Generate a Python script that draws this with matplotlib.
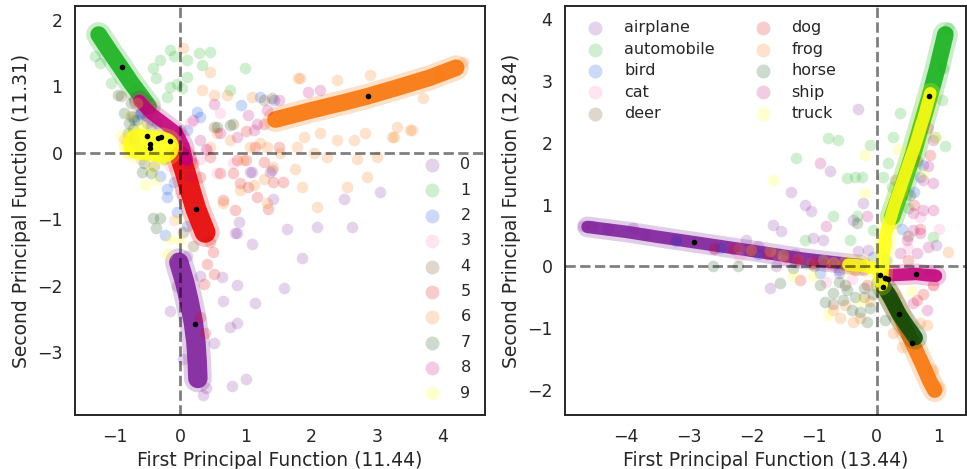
import numpy as np
import matplotlib
matplotlib.use('Agg')
import matplotlib.pyplot as plt

# Class names for the two data sets
digit_labels = [str(i) for i in range(10)]
cifar_labels = ['airplane', 'automobile', 'bird', 'cat', 'deer',
                'dog', 'frog', 'horse', 'ship', 'truck']

# xkcd colours, one per class
palette = ['#7e1e9c', '#15b01a', '#0343df', '#ff81c0', '#653700',
           '#e50000', '#f97306', '#054907', '#c20078', '#ffff14']

# ---- MNIST-like panel: dense ridge of each class (centre line) ----
left_core_x = [
    [-0.02, 0.07, 0.14, 0.20, 0.24, 0.26, 0.27],
    [-1.24, -1.10, -0.90, -0.75, -0.60, -0.48],
    [], [], [],
    [0.00, 0.08, 0.15, 0.24, 0.32, 0.38],
    [1.45, 2.00, 2.50, 2.85, 3.30, 3.80, 4.20],
    [],
    [-0.62, -0.45, -0.25, -0.05, 0.05, 0.10],
    [-0.64, -0.45, -0.25],
]
left_core_y = [
    [-1.65, -1.95, -2.25, -2.55, -2.85, -3.15, -3.40],
    [1.78, 1.57, 1.28, 1.06, 0.86, 0.70],
    [], [], [],
    [-0.05, -0.30, -0.55, -0.85, -1.05, -1.20],
    [0.50, 0.64, 0.76, 0.85, 0.98, 1.13, 1.28],
    [],
    [0.78, 0.60, 0.45, 0.30, 0.10, -0.10],
    [0.13, 0.11, 0.08],
]

# ---- MNIST-like panel: scattered points away from the ridges ----
left_pts_x = [
    [3.04, 2.49, 2.61, 2.08, 1.63, 1.85, 1.58, 1.14, 1.01, 0.79, 0.86, 0.76, 0.66,
     0.86, 0.63, 1.09, 0.86, 0.89, 1.42, 1.37, 1.09, -0.15, 0.51, 1.07, 1.40, 0.84,
     0.40, 0.35, -0.05, 0.10, 0.30, 0.05],
    [-1.22, -0.41, -0.30, -0.15, -0.10, 0.10, 0.28, 0.46, 0.33, -0.36, -0.20, -0.05,
     0.10, 0.03, 0.99, 0.76, -0.15, -1.30, -1.05, -0.70],
    [-0.60, -0.50, -0.45, -0.70, -0.35, -0.20, -0.30, -0.20, -0.20, -0.23, -0.10, 0.10,
     0.25, 0.30, 0.93, 1.22, 1.43, -0.61, -0.71, -0.05, 0.10],
    [-0.85, -0.81, -0.60, 0.41, 0.81, 0.56, -0.10, 0.00, -0.15, 0.30, 0.15, -0.40, 0.60],
    [-0.90, -0.75, -0.50, 1.40, 0.51, 0.81, -0.40, -0.25, 1.27, 0.20, 0.05],
    [0.86, 1.01, 1.27, 1.42, 1.57, 0.91, 0.81, 1.04, 1.17, 0.84, 0.66, 1.34, 0.61, 0.30,
     0.46, 0.20, 1.14, 1.50, 1.01, 1.27, 0.41, 0.51, 0.36, 0.38, 0.30, 0.45, 0.50],
    [0.05, 0.46, 0.33, 0.51, 0.71, 1.09, 1.83, 2.38, 2.89, 3.30, 3.50, 3.22, 2.82, 2.64,
     2.38, 2.13, 1.88, 1.78, 1.52, 1.32, 1.22, 1.07, 0.76, 0.56, 2.03, 2.23, 2.69, 2.84,
     2.54, 2.08, 1.85, 1.75, 1.27, 1.12, 0.91, 0.66, 1.32, 1.42, 0.96, 0.46, 3.53, 3.70,
     2.99, 1.80, 3.25, 4.30, 3.95],
    [-0.85, -0.78, -0.72, -0.80, -0.65, -0.70, -0.60, -0.75, -0.94, -0.55, -0.58, -0.41,
     -0.36, -0.30, 0.76, 0.56, -0.45],
    [0.51, 1.04, 1.17, 1.32, 1.50, 1.95, 2.13, 0.30, 0.20, 0.86, 0.61, 0.00, 1.12, 0.40,
     -0.70, 0.15],
    [-0.53, -0.20, 0.00, -0.36, -0.45, -0.75, -0.65, -0.30, -0.05, -0.15, -0.85, -0.80,
     -0.60, -0.90],
]
left_pts_y = [
    [-0.59, -0.69, -1.12, -1.12, -1.15, -1.59, -2.03, -2.26, -3.41, -3.51, -2.56, -2.62,
     -2.24, -1.99, -1.87, -1.37, -1.21, -1.04, -0.69, -0.29, -0.29, -2.39, -2.87, -0.29,
     -0.26, -1.21, -3.55, -3.65, -2.0, -1.55, -1.85, -3.1],
    [1.35, 1.27, 1.40, 1.55, 1.45, 1.40, 1.50, 1.52, 1.32, 1.12, 0.84, 1.04, 1.14, 0.97,
     1.27, 0.94, 0.99, 1.45, 1.05, 0.95],
    [0.60, 0.55, 0.40, 0.50, 0.45, 0.30, -0.35, -0.55, -0.66, -1.24, -0.44, 0.34, 0.62,
     0.54, 0.72, 0.84, 0.80, 0.59, 0.54, -0.90, -1.10],
    [0.20, 0.19, -0.10, 0.04, -0.16, -0.31, -1.01, -0.60, -0.20, -0.10, 0.45, 0.70, 0.60],
    [0.85, 0.55, 0.45, 0.82, 0.39, 0.44, -0.20, -0.10, 0.80, -1.40, -1.20],
    [-0.11, -0.11, -0.14, -0.44, -0.44, -0.46, -0.31, -0.51, -0.66, -0.86, -0.71, -0.84,
     -0.31, -0.36, -0.06, -0.16, 0.09, 0.09, 0.32, 0.44, -1.67, -1.82, -1.97, -2.72,
     -2.47, -1.35, -1.50],
    [1.57, 1.22, 0.94, 0.87, 0.87, 0.84, 1.12, 1.09, 1.17, 0.39, 0.34, 0.24, 0.29, 0.19,
     0.19, 0.29, 0.24, 0.09, -0.01, 0.09, 0.14, 0.09, 0.19, 0.29, -0.01, -0.06, -0.09,
     -0.36, -0.51, -0.81, -0.51, -0.24, -0.39, -0.49, -0.56, -0.76, -0.76, -0.21, -0.11,
     0.09, 0.34, 0.82, -0.06, 1.12, 0.24, 1.36, 1.15],
    [0.60, 0.45, 0.35, 0.30, 0.50, 0.20, 0.05, 0.75, 0.87, -0.15, -0.29, -0.99, -1.14,
     -0.99, 0.42, 0.39, -0.30],
    [0.74, 0.57, 0.44, 0.64, 0.79, 0.92, 0.94, 0.19, 0.49, 0.24, 0.29, 0.29, 0.34, 0.05,
     0.15, -0.35],
    [-0.49, -1.52, -1.32, -0.41, -0.25, 0.55, 0.75, -0.10, -1.00, -1.30, 0.10, 0.00,
     0.40, 0.25],
]

left_cen_x = [0.23, -0.88, -0.34, -0.46, -0.46, 0.24, 2.86, -0.51, -0.15, -0.29]
left_cen_y = [-2.58, 1.29, 0.22, 0.07, 0.13, -0.85, 0.85, 0.25, 0.17, 0.23]

# ---- CIFAR-like panel: dense ridges ----
right_core_x = [
    [-4.62, -4.00, -3.50, -2.90, -2.30, -1.70, -1.20, -0.70, -0.25],
    [0.25, 0.42, 0.58, 0.72, 0.85, 0.97, 1.10],
    [], [], [], [],
    [0.20, 0.40, 0.57, 0.72, 0.85, 0.93],
    [0.10, 0.22, 0.36, 0.50, 0.62],
    [0.22, 0.45, 0.63, 0.80, 0.95],
    [-0.45, -0.20, 0.03, 0.08, 0.14, 0.29, 0.46, 0.63, 0.78, 0.86],
]
right_core_y = [
    [0.64, 0.56, 0.48, 0.39, 0.30, 0.21, 0.13, 0.07, 0.02],
    [0.80, 1.30, 1.80, 2.30, 2.75, 3.20, 3.75],
    [], [], [], [],
    [-0.45, -0.85, -1.23, -1.55, -1.85, -2.00],
    [-0.30, -0.50, -0.77, -0.98, -1.15],
    [-0.14, -0.13, -0.12, -0.14, -0.15],
    [0.03, 0.01, -0.05, -0.30, 0.50, 1.00, 1.50, 2.00, 2.50, 2.80],
]

right_pts_x = [
    [-0.29, -1.36, -1.14, -1.04, -1.65, -1.52, -1.70, -1.01, -0.85, -0.21, -0.37, -0.13,
     -2.08, -0.75, 0.95, 0.85, -4.70, -4.55, -3.90, -3.20, -2.60, -1.90, -1.30, -0.90,
     -0.60, -0.30, -1.60, -4.30, -3.70],
    [-1.28, -0.77, -0.61, -0.48, -0.35, -0.24, -0.11, -0.69, -1.14, -0.43, 0.37, 0.27,
     0.19, 0.11, 0.24, 0.91, 1.09, 1.04, 1.06, 0.93, -0.05, -0.32, 1.15, 0.50],
    [0.75, -0.05, -0.30, -0.60, -1.90, -2.50, -3.20, 0.60, 0.70, 0.15, -0.90, 0.40],
    [0.90, 0.50, -0.40, -1.50, -0.80, 0.30, 0.70, -2.20, 1.00],
    [-0.50, -0.20, 0.50, -1.00, 0.30, 0.65, -0.70],
    [-2.60, -2.30, -2.00, -1.75, -1.45, -1.25, -1.00, -0.80, -0.55, -0.35, -1.22, 0.64,
     0.90, 0.75, 0.50, 0.70, 0.85, 0.60, 0.30, -0.15],
    [-2.20, -1.60, -1.25, -1.05, -0.70, -0.40, -0.59, -0.37, -0.27, 0.27, 0.69, 0.80,
     1.14, 0.91, -0.51, -0.69, 0.40, 0.98, -0.10],
    [-0.83, -0.53, -0.48, -0.69, -0.27, -0.11, -0.35, -0.20, -0.60, -0.90, -0.05, -0.40,
     -1.33, -1.54, -2.61, -2.21, 0.13, -0.32, 0.53, 0.59, -0.15],
    [0.59, 0.75, 0.91, 0.59, 0.69, 0.48, 0.83, 0.64, 0.37, 0.75, 0.91, 0.83, 0.83, 0.91,
     -0.80, -0.16, 0.80, 0.59, -0.91, -1.30, -1.00, -0.70, -0.45, -0.20, -2.00, -1.70],
    [-1.65, -0.19, -0.19, -0.77, -1.33, -1.01, -2.00, -1.70, -1.50, -0.25, 0.35, 0.40,
     0.75, 0.95, 0.55, -0.70, -0.85],
]
right_pts_y = [
    [2.54, 1.21, 1.00, 0.89, 0.67, 0.57, -0.35, 0.46, 0.43, 1.02, 0.75, 0.27, 0.43,
     1.54, 0.35, -0.05, 0.65, 0.66, 0.62, 0.44, 0.28, 0.33, 0.20, 0.08, -0.10, 0.25,
     0.00, 0.60, 0.52],
    [1.75, 2.07, 2.05, 1.43, 1.45, 1.45, 1.97, 0.81, 0.43, 0.43, 2.48, 2.10, 1.67, 1.45,
     1.29, 0.48, 1.94, 2.69, 3.21, 2.10, 0.59, 0.81, 3.85, 0.95],
    [1.64, 0.16, 0.05, -0.05, 0.20, 0.30, 0.42, 1.20, 1.45, 0.10, -0.10, 0.60],
    [-0.30, 0.30, -0.20, 0.10, -0.25, -0.50, 0.80, 0.15, 0.60],
    [-0.30, -0.50, 0.50, 0.00, 1.40, 1.70, -0.60],
    [0.30, 0.28, 0.25, 0.20, 0.15, 0.10, 0.08, 0.04, 0.02, -0.05, -0.22, -0.54, -0.30,
     -0.45, 0.10, 0.60, 1.80, 1.00, -0.60, -0.30],
    [0.30, 0.20, 0.12, 0.05, 0.05, -0.02, -0.84, -0.89, -0.84, -1.08, -0.92, -0.94, 0.24,
     -1.67, -0.62, -0.70, -1.30, -1.95, -0.55],
    [-0.57, -0.54, -0.38, -0.43, -0.73, -0.67, -0.50, -0.35, -0.25, -0.30, -0.45, -0.70,
     -0.03, -0.27, 0.00, 0.00, -0.86, 0.70, 1.16, 1.78, -0.90],
    [0.86, 0.92, 0.92, 0.59, 0.54, 0.43, 0.32, 0.22, 0.22, 1.40, 1.35, 1.62, 2.24, 2.05,
     0.65, 0.81, -0.70, -0.59, 1.67, 0.08, 0.05, 0.02, 0.00, -0.05, 0.28, 0.22],
    [1.40, 1.80, 1.19, -0.78, -0.16, -0.16, 0.27, 0.25, 0.18, -0.55, 1.90, 1.20, 1.50,
     2.10, -0.40, 0.08, 0.10],
]

right_cen_x = [-2.91, 0.84, 0.05, 0.14, 0.19, 0.11, 0.57, 0.36, 0.63, 0.13]
right_cen_y = [0.39, 2.75, -0.13, -0.19, -0.20, -0.33, -1.24, -0.77, -0.12, -0.18]

# ridge widths in points (style)
left_core_w = [14, 12, 0, 0, 0, 15, 12, 0, 9, 22]
right_core_w = [9, 12, 0, 0, 0, 0, 11, 11, 9, 9]

text_color = '#262626'
plt.rcParams['font.family'] = 'DejaVu Sans'
plt.rcParams['text.color'] = text_color
plt.rcParams['axes.labelcolor'] = text_color


def draw_panel(ax, core_x, core_y, core_w, pts_x, pts_y, cen_x, cen_y, labels):
    for c in range(10):
        z = 2 + c * 0.1
        col = palette[c]
        if core_x[c]:
            ax.plot(core_x[c], core_y[c], color=col, lw=core_w[c] + 6, alpha=0.22,
                    solid_capstyle='round', solid_joinstyle='round', zorder=z)
            ax.plot(core_x[c], core_y[c], color=col, lw=core_w[c], alpha=0.88,
                    solid_capstyle='round', solid_joinstyle='round', zorder=z + 0.01)
        ax.scatter(pts_x[c], pts_y[c], s=70, color=col, alpha=0.2, linewidths=0,
                   label=labels[c], zorder=z + 0.02)
    ax.axhline(0, color='k', alpha=0.5, lw=2, ls='--', zorder=4)
    ax.axvline(0, color='k', alpha=0.5, lw=2, ls='--', zorder=4)
    ax.scatter(cen_x, cen_y, s=16, color='k', linewidths=0, zorder=5)
    for sp in ax.spines.values():
        sp.set_color(text_color)
        sp.set_linewidth(1.4)
    ax.tick_params(length=0, pad=9, labelsize=12.5, colors=text_color)


fig = plt.figure(figsize=(9.67, 4.69), dpi=100)
ax1 = fig.add_axes([75 / 967, 54 / 469, 410 / 967, 409 / 469])
ax2 = fig.add_axes([565 / 967, 54 / 469, 401 / 967, 409 / 469])

draw_panel(ax1, left_core_x, left_core_y, left_core_w, left_pts_x, left_pts_y,
           left_cen_x, left_cen_y, digit_labels)
ax1.set_xlim(-1.6, 4.64)
ax1.set_ylim(-3.95, 2.21)
ax1.set_xticks(range(-1, 5))
ax1.set_yticks(range(-3, 3))
ax1.set_xlabel('First Principal Function (11.44)', fontsize=13.5)
ax1.set_ylabel('Second Principal Function (11.31)', fontsize=13.5)
ax1.legend(loc='lower right', frameon=False, fontsize=11.5, labelspacing=0.65,
           markerscale=1.2)

draw_panel(ax2, right_core_x, right_core_y, right_core_w, right_pts_x, right_pts_y,
           right_cen_x, right_cen_y, cifar_labels)
ax2.set_xlim(-4.98, 1.43)
ax2.set_ylim(-2.40, 4.21)
ax2.set_xticks(range(-4, 2))
ax2.set_yticks(range(-2, 5))
ax2.set_xlabel('First Principal Function (13.44)', fontsize=13.5)
ax2.set_ylabel('Second Principal Function (12.84)', fontsize=13.5)
ax2.legend(loc='upper left', ncol=2, frameon=False, fontsize=11.5, labelspacing=0.4,
           markerscale=1.2)

fig.savefig('out.png', dpi=100)
